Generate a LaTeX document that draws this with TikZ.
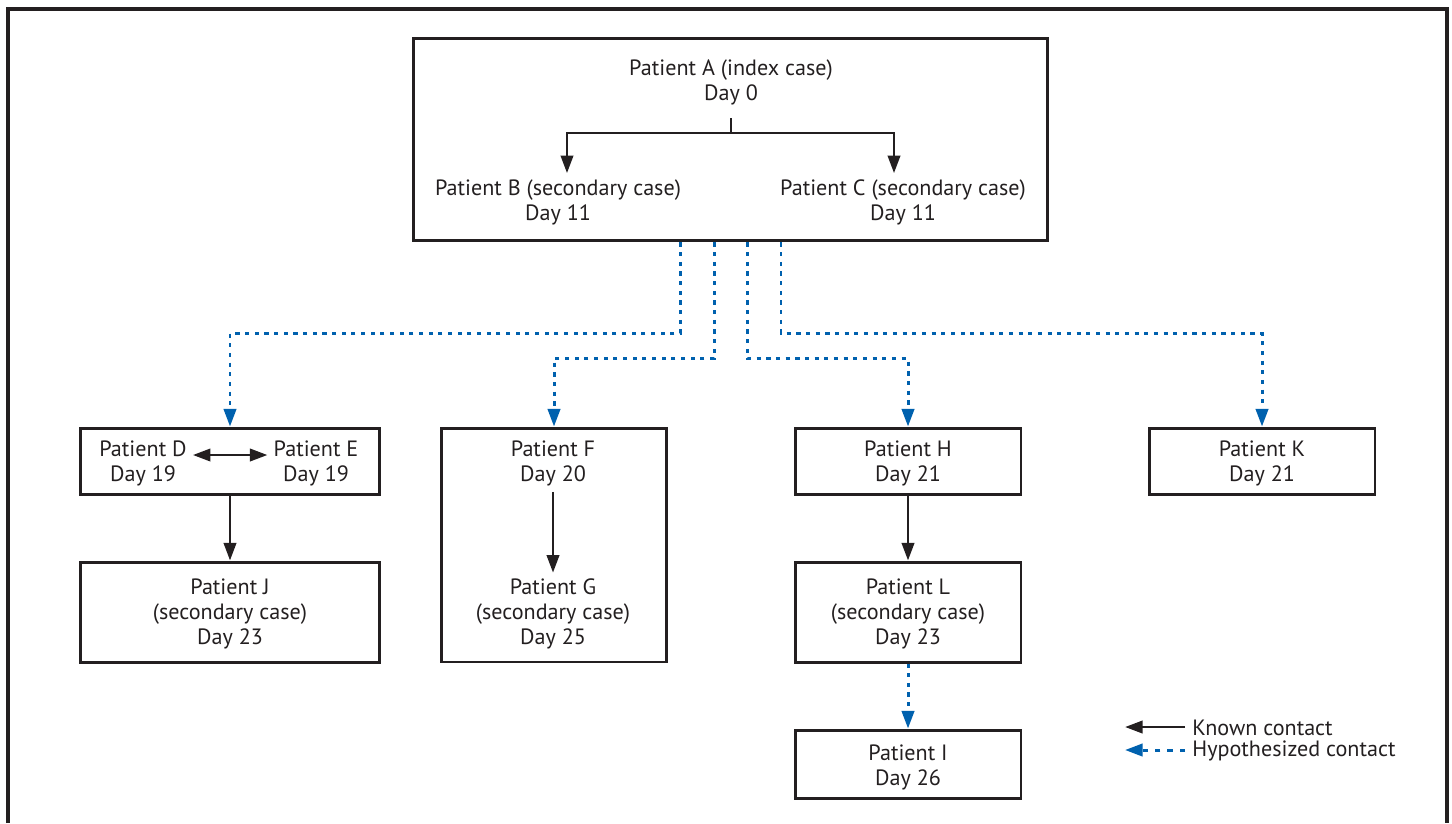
\documentclass[tikz,border=0pt]{standalone}
\usepackage{fontspec}
\setmainfont{PT Sans}
\usepackage{tikz}
\usetikzlibrary{arrows,arrows.meta}
\usepackage{xcolor}
\definecolor{inkblack}{HTML}{231F20}
\definecolor{hypblue}{HTML}{0061AE}
\tikzset{
 box line/.style={line width=1.7pt, draw=inkblack}
}
\tikzstyle{casebox}=[box line, rectangle, inner sep=0pt]
\tikzstyle{casetext}=[align=center, text=inkblack, font=\fontsize{12.6}{14.2}\selectfont]
\tikzstyle{known}=[line width=1.6pt, draw=inkblack, -{Triangle[length=10pt,width=7pt]}]
\tikzstyle{hypo}=[line width=1.7pt, draw=hypblue, dash pattern=on 2.4pt off 3.1pt, -{Triangle[length=10pt,width=7pt]}]

\begin{document}
\begin{tikzpicture}[x=0.02cm, y=-0.02cm]
 \useasboundingbox (0,0) rectangle (1452,823);
 \draw[line width=1.8pt, draw=inkblack] (8,823) -- (8,9) -- (1447,9) -- (1447,823);
%
 \node[casebox, minimum width=12.7cm, minimum height=4.06cm] (A) at (730.5,139.5) {};
 \node[casetext] (Atext) at (731,82) {Patient A (index case)\\Day 0};
 \node[casetext] (Btext) at (558,202) {Patient B (secondary case)\\Day 11};
 \node[casetext] (Ctext) at (903,202) {Patient C (secondary case)\\Day 11};
 \coordinate (fork) at (731,133);
 \draw[line width=1.6pt, draw=inkblack] (731,118) -- (fork);
 \draw[known] (fork) -| ([xshift=0.18cm]Btext.north);
 \draw[known] (fork) -| ([xshift=-0.18cm]Ctext.north);
%
 \node[casebox, minimum width=6cm, minimum height=1.32cm] (DE) at (230,461) {};
 \node[casetext] (Dtext) at (143,463) {Patient D\\Day 19};
 \node[casetext] (Etext) at (316,463) {Patient E\\Day 19};
 \draw[known, {Triangle[length=10pt,width=7pt]}-{Triangle[length=10pt,width=7pt]}] ([yshift=0.16cm]Dtext.east) -- ([yshift=0.16cm]Etext.west);
 \node[casebox, minimum width=6cm, minimum height=2cm] (J) at (230,612) {};
 \node[casetext] (Jtext) at (230,614) {Patient J\\(secondary case)\\Day 23};
 \draw[known] (DE.south) -- (J.north);
%
 \node[casebox, minimum width=4.52cm, minimum height=4.68cm] (FG) at (554,545) {};
 \node[casetext] (Ftext) at (553,463) {Patient F\\Day 20};
 \node[casetext] (Gtext) at (553,614) {Patient G\\(secondary case)\\Day 25};
 \draw[known] (Ftext.south) -- (Gtext.north);
%
 \node[casebox, minimum width=4.52cm, minimum height=1.32cm] (H) at (908,461) {};
 \node[casetext] (Htext) at (908,463) {Patient H\\Day 21};
 \node[casebox, minimum width=4.52cm, minimum height=2cm] (L) at (908,612) {};
 \node[casetext] (Ltext) at (908,614) {Patient L\\(secondary case)\\Day 23};
 \node[casebox, minimum width=4.52cm, minimum height=1.36cm] (I) at (908,764) {};
 \node[casetext] (Itext) at (908,767) {Patient I\\Day 26};
 \draw[known] (H.south) -- (L.north);
 \draw[hypo] (L.south) -- (I.north);
%
 \node[casebox, minimum width=4.52cm, minimum height=1.32cm] (K) at (1262,461) {};
 \node[casetext] (Ktext) at (1262,463) {Patient K\\Day 21};
%
 \draw[hypo] ([xshift=-1.01cm]A.south) -- ++(0,91) -| (DE.north);
 \draw[hypo] ([xshift=-0.33cm]A.south) -- ++(0,116) -| (FG.north);
 \draw[hypo] ([xshift=0.33cm]A.south) -- ++(0,116) -| (H.north);
 \draw[hypo] ([xshift=1.01cm]A.south) -- ++(0,91) -| (K.north);
%
 \node[casetext, anchor=west, inner sep=0pt] (knownkey) at (1192,728) {Known contact};
 \node[casetext, anchor=west, inner sep=0pt] (hypokey) at (1192,751) {Hypothesized contact};
 \coordinate (knowntip) at (1125,727);
 \coordinate (hypotip) at (1125,750);
 \draw[known] ([xshift=-0.14cm,yshift=0.02cm]knownkey.west) -- (knowntip);
 \draw[hypo, dash pattern=on 3pt off 4pt] ([xshift=-0.14cm,yshift=0.02cm]hypokey.west) -- (hypotip);
\end{tikzpicture}
\end{document}
